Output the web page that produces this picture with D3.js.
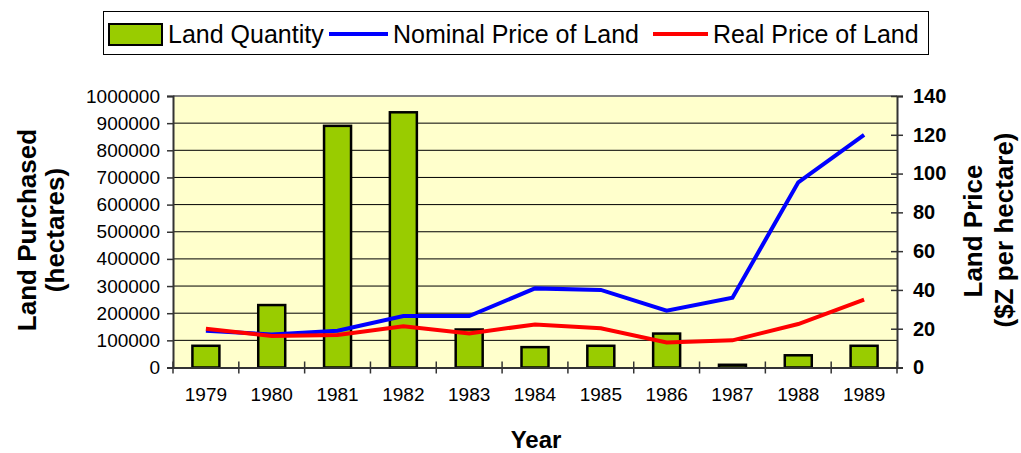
<!DOCTYPE html>
<html>
<head>
<meta charset="utf-8">
<script src="https://cdn.jsdelivr.net/npm/d3@7/dist/d3.min.js"></script>
<style>
  body { margin: 0; background: #fff; }
  svg { font-family: "Liberation Sans", Arial, sans-serif; }
</style>
</head>
<body>
<svg width="1021" height="453"></svg>
<script>
var years = ["1979", "1980", "1981", "1982", "1983", "1984", "1985", "1986", "1987", "1988", "1989"];
var landQuantity = [80000, 230000, 890000, 940000, 140000, 75000, 80000, 125000, 10000, 45000, 80000];
var nominalPrice = [19, 17, 19, 26.5, 26.5, 40.8, 40, 29.3, 36, 95.5, 120];
var realPrice = [20, 16.2, 16.8, 21.3, 17.6, 22.2, 20.2, 12.9, 14, 22.4, 35];
var leftTicks = [0, 100000, 200000, 300000, 400000, 500000, 600000, 700000, 800000, 900000, 1000000];
var rightTicks = [0, 20, 40, 60, 80, 100, 120, 140];

var svg = d3.select("svg"),
    margin = {left: 173, right: 1021 - 897, top: 96, bottom: 453 - 367.5},
    width = 897 - 173,
    height = 367.5 - 96;

var g = svg.append("g")
    .attr("transform", "translate(" + margin.left + "," + margin.top + ")");

var x = d3.scaleBand().domain(years).range([0, width]);
var yL = d3.scaleLinear().domain([0, 1000000]).range([height, 0]);
var yR = d3.scaleLinear().domain([0, 140]).range([height, 0]);

// plot background
g.append("rect")
    .attr("width", width).attr("height", height)
    .attr("fill", "#ffffcc");

// gridlines
g.append("g").selectAll("line")
    .data(leftTicks.slice(1, -1))
    .enter().append("line")
    .attr("x1", 0).attr("x2", width)
    .attr("y1", function(d) { return yL(d); })
    .attr("y2", function(d) { return yL(d); })
    .attr("stroke", "#000").attr("stroke-width", 1);

// top border
g.append("line").attr("x1", 0).attr("x2", width).attr("y1", 0).attr("y2", 0)
    .attr("stroke", "#808080").attr("stroke-width", 2);

// bars
var bw = x.bandwidth() * 0.41;
g.append("g").selectAll("rect")
    .data(landQuantity)
    .enter().append("rect")
    .attr("x", function(d, i) { return x(years[i]) + x.bandwidth() / 2 - bw / 2; })
    .attr("y", function(d) { return yL(d); })
    .attr("width", bw)
    .attr("height", function(d) { return height - yL(d); })
    .attr("fill", "#99cc00")
    .attr("stroke", "#000")
    .attr("stroke-width", 2.5);

// lines
var line = function(scale) {
  return d3.line()
    .x(function(d, i) { return x(years[i]) + x.bandwidth() / 2; })
    .y(function(d) { return scale(d); });
};
g.append("path").datum(nominalPrice)
    .attr("d", line(yR))
    .attr("fill", "none").attr("stroke", "#0000ff").attr("stroke-width", 4);
g.append("path").datum(realPrice)
    .attr("d", line(yR))
    .attr("fill", "none").attr("stroke", "#ff0000").attr("stroke-width", 4);

// left axis
var axL = g.append("g")
    .call(d3.axisLeft(yL).tickValues(leftTicks).tickSize(6).tickPadding(7).tickFormat(d3.format("d")));
axL.select(".domain").attr("stroke", "#333").attr("stroke-width", 2);
axL.selectAll(".tick line").attr("stroke", "#333").attr("stroke-width", 1.5);
axL.selectAll("text").attr("font-size", 19).attr("fill", "#000")
    .style("font-family", "Liberation Sans, Arial, sans-serif");

// right axis
var axR = g.append("g")
    .attr("transform", "translate(" + width + ",0)")
    .call(d3.axisRight(yR).tickValues(rightTicks).tickSize(6).tickPadding(10));
axR.select(".domain").attr("stroke", "#333").attr("stroke-width", 2);
axR.selectAll(".tick line").attr("x1", -6).attr("stroke", "#333").attr("stroke-width", 1.5);
axR.selectAll("text").attr("font-size", 20).attr("font-weight", "bold").attr("fill", "#000")
    .style("font-family", "Liberation Sans, Arial, sans-serif");

// bottom axis
var axB = g.append("g")
    .attr("transform", "translate(0," + height + ")")
    .call(d3.axisBottom(x).tickSize(0).tickPadding(20));
axB.select(".domain").attr("stroke", "#333").attr("stroke-width", 2);
axB.selectAll("text").attr("font-size", 19).attr("fill", "#000")
    .style("font-family", "Liberation Sans, Arial, sans-serif");
axB.selectAll(".sep")
    .data(d3.range(years.length + 1))
    .enter().append("line")
    .attr("class", "sep")
    .attr("x1", function(i) { return i * x.step(); })
    .attr("x2", function(i) { return i * x.step(); })
    .attr("y1", -6).attr("y2", 6)
    .attr("stroke", "#333").attr("stroke-width", 1.5);

// axis titles
svg.append("text")
    .attr("transform", "translate(36,230) rotate(-90)")
    .attr("text-anchor", "middle")
    .attr("font-size", 26).attr("font-weight", "bold")
    .text("Land Purchased");
svg.append("text")
    .attr("transform", "translate(64,230) rotate(-90)")
    .attr("text-anchor", "middle")
    .attr("font-size", 26).attr("font-weight", "bold")
    .text("(hectares)");
svg.append("text")
    .attr("transform", "translate(982,231) rotate(-90)")
    .attr("text-anchor", "middle")
    .attr("font-size", 26).attr("font-weight", "bold")
    .text("Land Price");
svg.append("text")
    .attr("transform", "translate(1013,230) rotate(-90)")
    .attr("text-anchor", "middle")
    .attr("font-size", 26).attr("font-weight", "bold")
    .text("($Z per hectare)");
svg.append("text")
    .attr("x", 536).attr("y", 448)
    .attr("text-anchor", "middle")
    .attr("font-size", 24).attr("font-weight", "bold")
    .text("Year");

// legend
var legend = svg.append("g");
legend.append("rect")
    .attr("x", 103.5).attr("y", 11.5).attr("width", 825).attr("height", 43)
    .attr("fill", "#fff").attr("stroke", "#000").attr("stroke-width", 1);
legend.append("rect")
    .attr("x", 109).attr("y", 24).attr("width", 53).attr("height", 21)
    .attr("fill", "#99cc00").attr("stroke", "#000").attr("stroke-width", 2);
legend.append("text").attr("x", 168).attr("y", 43).attr("font-size", 25)
    .text("Land Quantity");
legend.append("line").attr("x1", 329).attr("x2", 388).attr("y1", 34).attr("y2", 34)
    .attr("stroke", "#0000ff").attr("stroke-width", 4);
legend.append("text").attr("x", 393).attr("y", 43).attr("font-size", 25)
    .text("Nominal Price of Land");
legend.append("line").attr("x1", 653).attr("x2", 708).attr("y1", 34).attr("y2", 34)
    .attr("stroke", "#ff0000").attr("stroke-width", 4);
legend.append("text").attr("x", 713).attr("y", 43).attr("font-size", 25)
    .text("Real Price of Land");
</script>
</body>
</html>
